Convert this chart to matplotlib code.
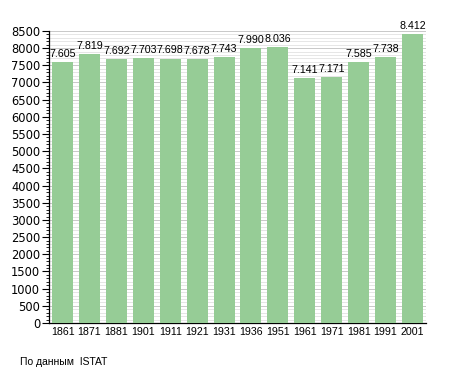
import numpy as np
import matplotlib.pyplot as plt
from matplotlib.ticker import MultipleLocator

plt.rcParams['font.family'] = ['Liberation Sans', 'DejaVu Sans']

years = ['1861', '1871', '1881', '1901', '1911', '1921', '1931',
         '1936', '1951', '1961', '1971', '1981', '1991', '2001']
population = [7605, 7819, 7692, 7703, 7698, 7678, 7743,
              7990, 8036, 7141, 7171, 7585, 7738, 8412]
labels = ['7.605', '7.819', '7.692', '7.703', '7.698', '7.678', '7.743',
          '7.990', '8.036', '7.141', '7.171', '7.585', '7.738', '8.412']


def draw_plot():
    fig = plt.figure(figsize=(4.55, 3.73), dpi=100)
    ax = fig.add_axes([0.108, 0.134, 0.828, 0.783])
    N = np.arange(len(years))
    ax.bar(N, population, width=0.78, color='#96cc96', zorder=3)
    for i in range(len(years)):
        ax.text(N[i], population[i] + 90, labels[i], ha='center', va='bottom',
                fontsize=7.7, zorder=4)
    ax.set_xlim(-0.5, len(years) - 0.5)
    ax.set_ylim(0, 8500)
    ax.yaxis.set_major_locator(MultipleLocator(500))
    ax.yaxis.set_minor_locator(MultipleLocator(100))
    ax.grid(axis='y', which='minor', color='#e2e2e2', linewidth=0.6, zorder=0)
    ax.grid(axis='y', which='major', color='#c8c8c8', linewidth=0.7, zorder=0)
    ax.set_xticks(N, years)
    ax.tick_params(axis='x', length=0, labelsize=7.7, pad=3)
    ax.tick_params(axis='y', which='major', length=5, width=0.8, pad=1.5)
    ax.tick_params(axis='y', which='minor', length=2, width=0.6)
    for lab in ax.get_yticklabels():
        lab.set_family('DejaVu Sans')
        lab.set_fontsize(8.3)
    for s in ['top', 'right']:
        ax.spines[s].set_visible(False)
    ax.spines['left'].set_linewidth(0.9)
    ax.spines['bottom'].set_linewidth(0.9)
    fig.text(0.045, 0.029, 'По данным  ISTAT', fontsize=7.5, ha='left', va='center')
    fig.savefig('out.png', dpi=100)


if __name__ == '__main__':
    draw_plot()
